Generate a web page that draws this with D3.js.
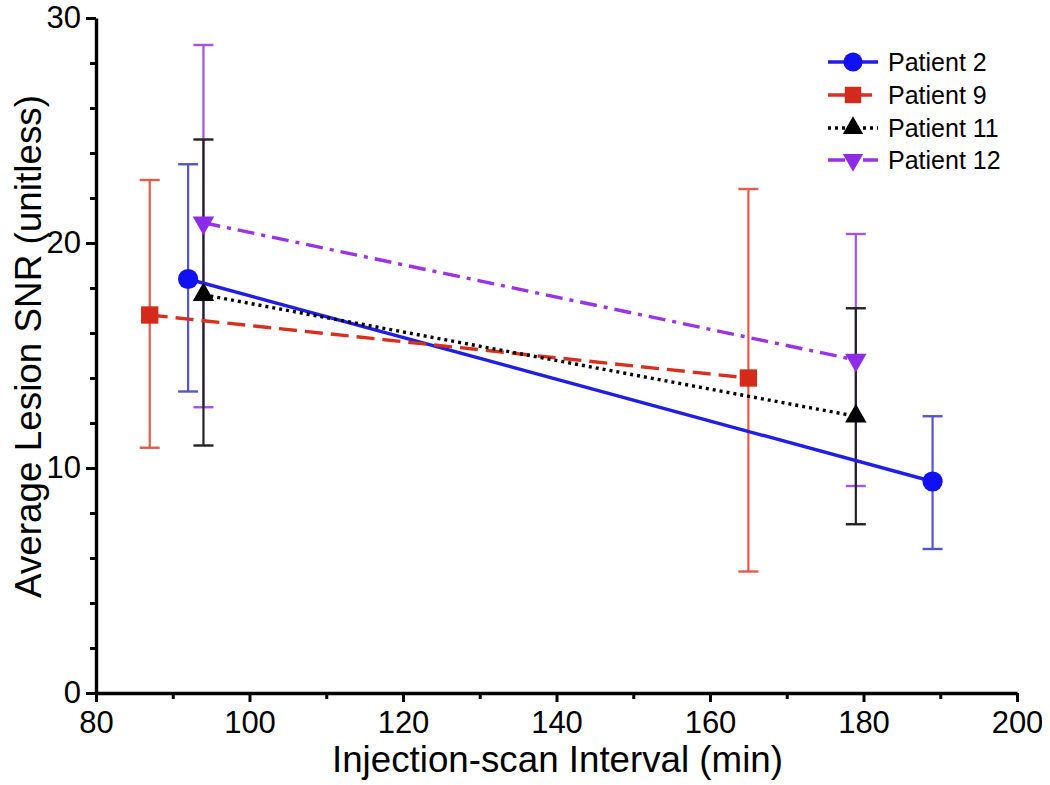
<!DOCTYPE html>
<html>
<head>
<meta charset="utf-8">
<script src="https://cdn.jsdelivr.net/npm/d3@7/dist/d3.min.js"></script>
<style>
  html, body { margin: 0; padding: 0; background: #fff; }
  svg { display: block; }
  text { font-family: "Liberation Sans", Arial, Helvetica, sans-serif; fill: #000; }
</style>
</head>
<body>
<svg id="chart" width="1050" height="785"></svg>
<script>
// ---- data ----
const seriesNames = ["Patient 2", "Patient 9", "Patient 11", "Patient 12"];
const xP2  = [92, 189];   const yP2  = [18.4, 9.4];  const loP2  = [13.4, 6.4];  const hiP2  = [23.5, 12.3];
const xP9  = [87, 165];   const yP9  = [16.8, 14.0]; const loP9  = [10.9, 5.4];  const hiP9  = [22.8, 22.4];
const xP11 = [94, 179];   const yP11 = [17.7, 12.3]; const loP11 = [11.0, 7.5];  const hiP11 = [24.6, 17.1];
const xP12 = [94, 179];   const yP12 = [20.9, 14.8]; const loP12 = [12.7, 9.2];  const hiP12 = [28.8, 20.4];
const xTicks = [80, 100, 120, 140, 160, 180, 200];
const xMinorTicks = [90, 110, 130, 150, 170, 190];
const yTicks = [0, 10, 20, 30];
const yMinorTicks = [2, 4, 6, 8, 12, 14, 16, 18, 22, 24, 26, 28];
const xTitle = "Injection-scan Interval (min)";
const yTitle = "Average Lesion SNR (unitless)";

// ---- styles ----
const styles = [
  { line: "#1e1ee8", marker: "#1010f2", err: "#5454cc", dash: null,          symbol: d3.symbolCircle,   size: 320, rot: 0, w: 3.4 },
  { line: "#d8301f", marker: "#d42a1c", err: "#e45a4c", dash: "18,8",        symbol: d3.symbolSquare,   size: 300, rot: 0, w: 3.4 },
  { line: "#000000", marker: "#000000", err: "#222222", dash: "3,4",         symbol: d3.symbolTriangle, size: 200, rot: 0, w: 3.4 },
  { line: "#9a32e6", marker: "#8e2be8", err: "#a552ea", dash: "17,7,4,7",    symbol: d3.symbolTriangle, size: 200, rot: 180, w: 3.4 }
];

const series = [
  { name: seriesNames[0], x: xP2,  y: yP2,  lo: loP2,  hi: hiP2 },
  { name: seriesNames[1], x: xP9,  y: yP9,  lo: loP9,  hi: hiP9 },
  { name: seriesNames[2], x: xP11, y: yP11, lo: loP11, hi: hiP11 },
  { name: seriesNames[3], x: xP12, y: yP12, lo: loP12, hi: hiP12 }
];

const svg = d3.select("#chart");
const x = d3.scaleLinear().domain([80, 200]).range([96, 1017]);
const y = d3.scaleLinear().domain([0, 30]).range([693, 18]);

// clip to mimic cropped right edge
svg.append("defs").append("clipPath").attr("id", "pageclip")
  .append("rect").attr("x", 0).attr("y", 0).attr("width", 1042).attr("height", 785);
const root = svg.append("g").attr("clip-path", "url(#pageclip)");

// ---- axes ----
const gx = root.append("g").attr("transform", `translate(0,${y(0)})`);
gx.call(d3.axisBottom(x).tickValues(xTicks).tickSize(9).tickSizeOuter(0).tickPadding(7).tickFormat(d3.format("d")));
const gxm = root.append("g").attr("transform", `translate(0,${y(0)})`);
gxm.call(d3.axisBottom(x).tickValues(xMinorTicks).tickSize(6).tickFormat(""));
gxm.select(".domain").remove();

const gy = root.append("g").attr("transform", `translate(${x(80)},0)`);
gy.call(d3.axisLeft(y).tickValues(yTicks).tickSize(10).tickSizeOuter(0).tickPadding(5).tickFormat(d3.format("d")));
const gym = root.append("g").attr("transform", `translate(${x(80)},0)`);
gym.call(d3.axisLeft(y).tickValues(yMinorTicks).tickSize(6).tickFormat(""));
gym.select(".domain").remove();

root.selectAll(".domain").attr("stroke", "#000").attr("stroke-width", 3.4);
root.selectAll(".tick line").attr("stroke", "#000").attr("stroke-width", 3);
root.selectAll(".tick text").attr("font-family", "Liberation Sans, Arial, sans-serif")
  .attr("font-size", 31).attr("fill", "#000");
gx.selectAll(".tick text").attr("dy", "0.78em");

// titles
root.append("text")
  .attr("x", (332 + 783) / 2).attr("y", 772)
  .attr("text-anchor", "middle").attr("font-size", 37)
  .attr("textLength", 451).attr("lengthAdjust", "spacingAndGlyphs")
  .text(xTitle);
root.append("text")
  .attr("transform", `translate(41,${(95 + 598) / 2}) rotate(-90)`)
  .attr("text-anchor", "middle").attr("font-size", 37)
  .attr("textLength", 503).attr("lengthAdjust", "spacingAndGlyphs")
  .text(yTitle);

// ---- error bars (purple before black so black sits on top) ----
const errOrder = [1, 0, 3, 2];
const capW = 10;
errOrder.forEach(i => {
  const s = series[i], st = styles[i];
  const g = root.append("g");
  s.x.forEach((xv, j) => {
    const cx = x(xv);
    g.append("line").attr("x1", cx).attr("x2", cx).attr("y1", y(s.lo[j])).attr("y2", y(s.hi[j]))
      .attr("stroke", st.err).attr("stroke-width", 2.2);
    [s.lo[j], s.hi[j]].forEach(v => {
      g.append("line").attr("x1", cx - capW).attr("x2", cx + capW).attr("y1", y(v)).attr("y2", y(v))
        .attr("stroke", st.err).attr("stroke-width", 2.4);
    });
  });
});

// ---- lines ----
const lineGen = d3.line().x(d => x(d[0])).y(d => y(d[1]));
series.forEach((s, i) => {
  const st = styles[i];
  const pts = s.x.map((xv, j) => [xv, s.y[j]]);
  root.append("path").attr("d", lineGen(pts)).attr("fill", "none")
    .attr("stroke", st.line).attr("stroke-width", st.w)
    .attr("stroke-dasharray", st.dash);
});

// ---- markers ----
series.forEach((s, i) => {
  const st = styles[i];
  const sym = d3.symbol().type(st.symbol).size(st.size);
  s.x.forEach((xv, j) => {
    root.append("path").attr("d", sym())
      .attr("transform", `translate(${x(xv)},${y(s.y[j])}) rotate(${st.rot})`)
      .attr("fill", st.marker);
  });
});

// ---- legend ----
const legY = [62, 95, 128, 160];
const leg = root.append("g");
series.forEach((s, i) => {
  const st = styles[i];
  const g = leg.append("g").attr("transform", `translate(0,${legY[i]})`);
  g.append("line").attr("x1", 828).attr("x2", 878).attr("y1", 0).attr("y2", 0)
    .attr("stroke", st.line).attr("stroke-width", st.w)
    .attr("stroke-dasharray", st.dash);
  g.append("path").attr("d", d3.symbol().type(st.symbol).size(st.size * 0.9)())
    .attr("transform", `translate(853,0) rotate(${st.rot})`).attr("fill", st.marker);
  g.append("text").attr("x", 888).attr("y", 0).attr("dy", "0.36em")
    .attr("font-size", 25).text(s.name);
});
</script>
</body>
</html>
